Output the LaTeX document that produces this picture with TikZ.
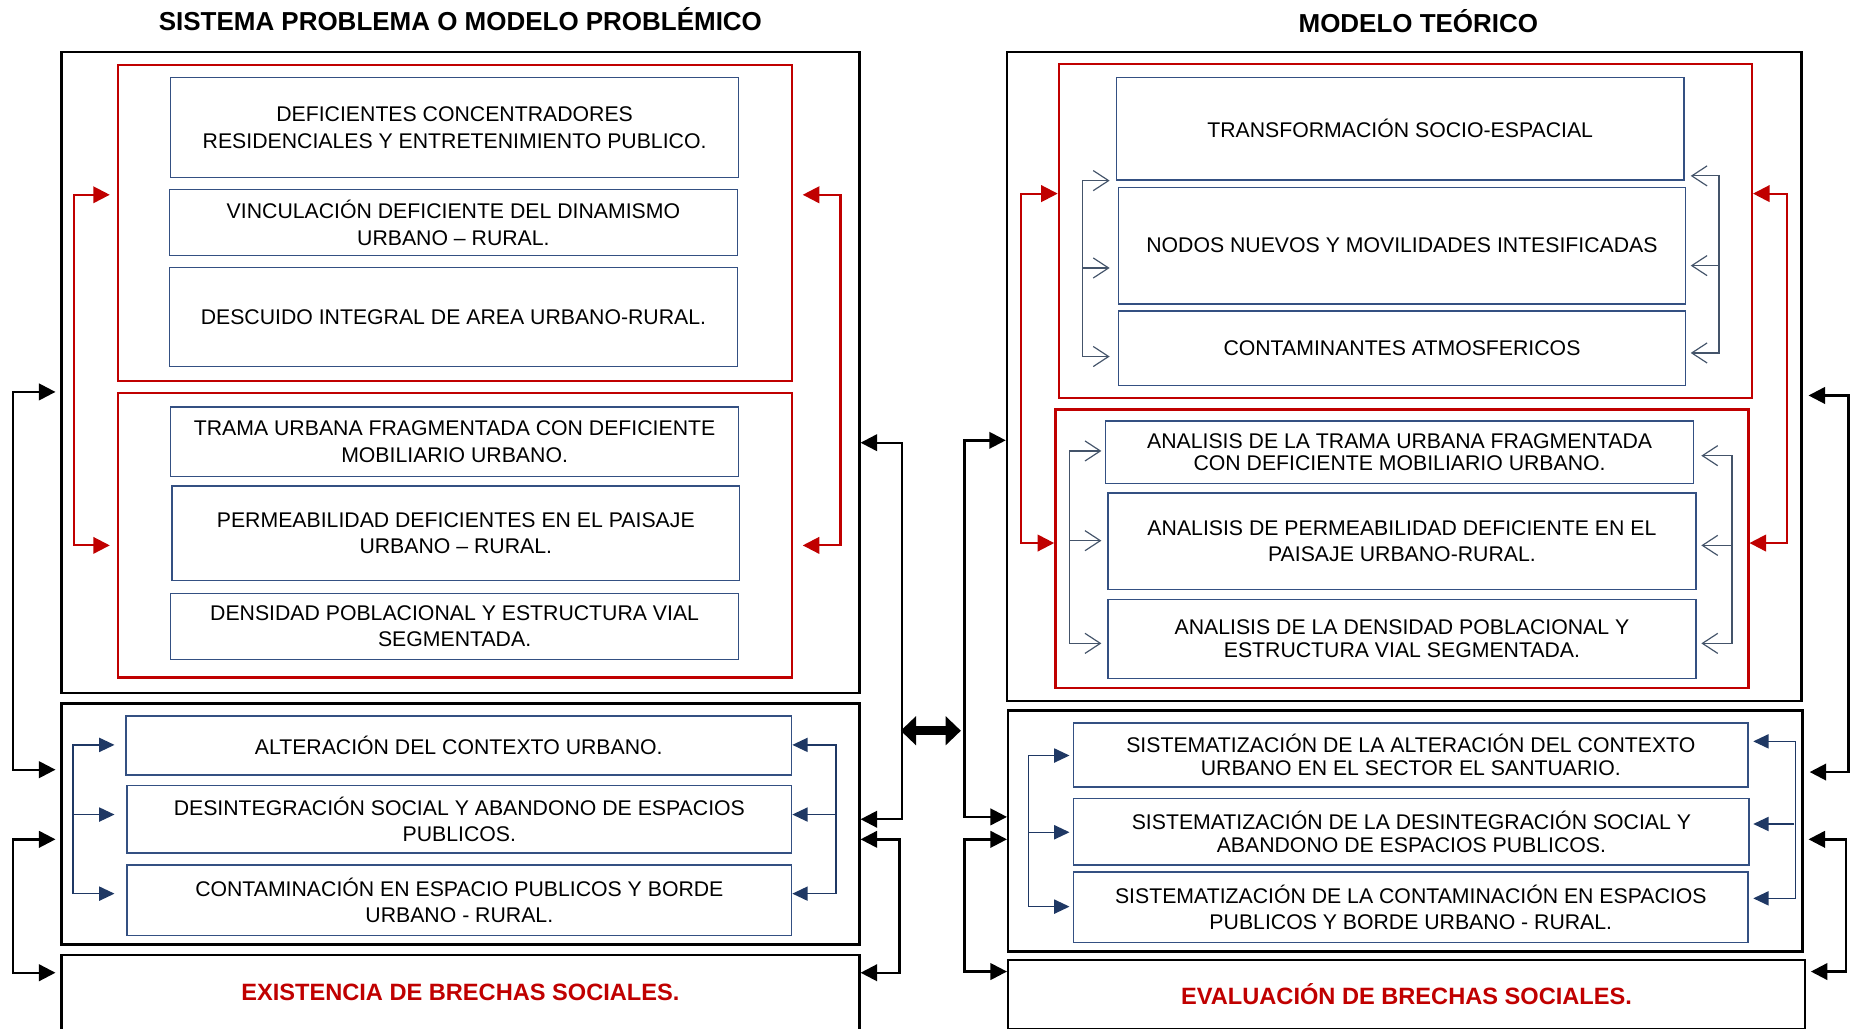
\documentclass[tikz,border=0pt]{standalone}
\usepackage{fontspec}
\setmainfont{Liberation Sans}
\usetikzlibrary{
		calc,
		positioning,
		arrows.meta
	}
\tikzset{
		>={Triangle[length=12pt,width=12pt]}
	}
\definecolor{rojo}{RGB}{192, 0, 0}
\definecolor{azulcaja}{RGB}{52, 80, 130}
\definecolor{azulflecha}{RGB}{31, 56, 100}
\definecolor{grisazul}{RGB}{68, 84, 106}

\begin{document}
\begin{tikzpicture}
		[x=1pt, y=-1pt,
		marco/.style= {draw=black, line width=2pt, anchor=north west, inner sep=0pt},
		marco rojo/.style= {draw=rojo, line width=2pt, anchor=north west, inner sep=0pt},
		caja/.style= {draw=azulcaja, line width=1.2pt, anchor=north west, inner sep=0pt, align=center, font=\fontsize{18}{22.5}\selectfont},
		apretada/.style= {font=\fontsize{18}{19}\selectfont},
		brecha/.style= {marco, text=rojo, font=\fontsize{20}{24}\bfseries\selectfont},
		titulo/.style= {inner sep=0pt, font=\fontsize{22}{26}\bfseries\selectfont},
		linea roja/.style= {draw=rojo, line width=1.8pt, >={Triangle[length=14pt,width=14pt]}},
		linea azul/.style= {draw=azulflecha, line width=1.2pt, >={Triangle[length=13pt,width=12pt]}},
		linea fina/.style= {draw=grisazul, line width=1pt, >={Straight Barb[length=13pt,width=17pt]}},
		linea negra/.style= {draw=black, line width=2pt, >={Triangle[length=14pt,width=14pt]}},
		flecha doble/.style= {draw=black, line width=8pt, {Triangle[length=13pt,width=24pt]}-{Triangle[length=13pt,width=24pt]}}
		]

		\useasboundingbox (0,0) rectangle (1568,871);

		\node [marco, minimum width=676pt, minimum height=543pt] (LB1) at (51,43) {};
			\node [marco rojo, minimum width=571pt, minimum height=268pt] (LR1) at (99,54) {};
				\node [caja, minimum width=481pt, minimum height=85pt] (L1) at (144,65) {DEFICIENTES CONCENTRADORES\\RESIDENCIALES Y ENTRETENIMIENTO PUBLICO.};
				\node [caja, minimum width=481pt, minimum height=56pt] (L2) at (143,160) {VINCULACIÓN DEFICIENTE DEL DINAMISMO\\URBANO – RURAL.};
				\node [caja, minimum width=481pt, minimum height=84pt] (L3) at (143,226) {DESCUIDO INTEGRAL DE AREA URBANO-RURAL.};
			\node [marco rojo, minimum width=571pt, minimum height=241pt] (LR2) at (99,332) {};
				\node [caja, minimum width=481pt, minimum height=59pt] (L4) at (144,344) {TRAMA URBANA FRAGMENTADA CON DEFICIENTE\\MOBILIARIO URBANO.};
				\node [caja, minimum width=481pt, minimum height=80pt] (L5) at (145,411) {PERMEABILIDAD DEFICIENTES EN EL PAISAJE\\URBANO – RURAL.};
				\node [caja, minimum width=481pt, minimum height=56pt] (L6) at (144,502) {DENSIDAD POBLACIONAL Y ESTRUCTURA VIAL\\SEGMENTADA.};
		\node [marco, minimum width=676pt, minimum height=204pt] (LB2) at (51,595) {};
			\node [caja, minimum width=564pt, minimum height=50pt] (L7) at (106,606) {ALTERACIÓN DEL CONTEXTO URBANO.};
			\node [caja, minimum width=563pt, minimum height=57pt] (L8) at (107,665) {DESINTEGRACIÓN SOCIAL Y ABANDONO DE ESPACIOS\\PUBLICOS.};
			\node [caja, minimum width=563pt, minimum height=60pt] (L9) at (107,732) {CONTAMINACIÓN EN ESPACIO PUBLICOS Y BORDE\\URBANO - RURAL.};
		\node [brecha, minimum width=676pt, minimum height=64pt] (LB3) at (51,808) {EXISTENCIA DE BRECHAS SOCIALES.};

		\node [marco, minimum width=673pt, minimum height=550pt] (RB1) at (852,43) {};
			\node [marco rojo, minimum width=587pt, minimum height=283pt] (RR1) at (896,53) {};
				\node [caja, minimum width=481pt, minimum height=87pt] (R1) at (945,65) {TRANSFORMACIÓN SOCIO-ESPACIAL};
				\node [caja, minimum width=480pt, minimum height=99pt] (R2) at (947,158) {NODOS NUEVOS Y MOVILIDADES INTESIFICADAS};
				\node [caja, minimum width=480pt, minimum height=63pt] (R3) at (947,263) {CONTAMINANTES ATMOSFERICOS};
			\node [marco rojo, minimum width=587pt, minimum height=236pt] (RR2) at (893,346) {};
				\node [caja, apretada, minimum width=498pt, minimum height=53pt] (R4) at (936,356) {ANALISIS DE LA TRAMA URBANA FRAGMENTADA\\CON DEFICIENTE MOBILIARIO URBANO.};
				\node [caja, minimum width=498pt, minimum height=82pt] (R5) at (938,417) {ANALISIS DE PERMEABILIDAD DEFICIENTE EN EL\\PAISAJE URBANO-RURAL.};
				\node [caja, apretada, minimum width=498pt, minimum height=67pt] (R6) at (938,507) {ANALISIS DE LA DENSIDAD POBLACIONAL Y\\ESTRUCTURA VIAL SEGMENTADA.};
		\node [marco, minimum width=673pt, minimum height=204pt] (RB2) at (853,601) {};
			\node [caja, apretada, minimum width=571pt, minimum height=54pt] (R7) at (909,612) {SISTEMATIZACIÓN DE LA ALTERACIÓN DEL CONTEXTO\\URBANO EN EL SECTOR EL SANTUARIO.};
			\node [caja, apretada, minimum width=572pt, minimum height=56pt] (R8) at (909,676) {SISTEMATIZACIÓN DE LA DESINTEGRACIÓN SOCIAL Y\\ABANDONO DE ESPACIOS PUBLICOS.};
			\node [caja, minimum width=571pt, minimum height=60pt] (R9) at (909,738) {SISTEMATIZACIÓN DE LA CONTAMINACIÓN EN ESPACIOS\\PUBLICOS Y BORDE URBANO - RURAL.};
		\node [brecha, minimum width=675pt, minimum height=59pt] (RB3) at (853,812) {EVALUACIÓN DE BRECHAS SOCIALES.};

		\node [titulo, above=17pt of LB1] (T1) {SISTEMA PROBLEMA O MODELO PROBLÉMICO};
		\node [titulo, above=15pt of RB1, xshift=12pt] (T2) {MODELO TEÓRICO};

		\draw [linea roja, <->, shorten <=6pt, shorten >=6pt] (LR1.west |- 0,165) -- ++(-36,0) |- (LR2.west |- 0,462);
		\draw [linea roja, <->, shorten <=8pt, shorten >=8pt] (LR1.east |- 0,165) -- ++(40,0) |- (LR2.east |- 0,462);
		\draw [linea roja, <->] (RR1.west |- 0,164) -- ++(-31,0) |- (RR2.west |- 0,460);
		\draw [linea roja, <->] (RR1.east |- 0,164) -- ++(29,0) |- (RR2.east |- 0,460);

		\coordinate (azulL) at (62,690);
		\coordinate (azulR) at (707,690);
		\draw [linea azul, <->, shorten <=9pt, shorten >=10pt] (L7.west |- 0,631) -- ++(-44,0) |- (L9.west |- 0,757);
			\draw [linea azul, ->, shorten >=10pt] (azulL) -- (L8.west |- azulL);
		\draw [linea azul, <->] (L7.east |- 0,631) -- ++(37,0) |- (L9.east |- 0,757);
			\draw [linea azul, ->] (azulR) -- (L8.east |- azulR);

		\coordinate (azulL2) at (871,705);
		\coordinate (azulR2) at (1520,698);
		\draw [linea azul, <->, shorten <=3pt, shorten >=3pt] (R7.west |- 0,640) -- ++(-38,0) |- (R9.west |- 0,768);
			\draw [linea azul, ->, shorten >=3pt] (azulL2) -- (R8.west |- azulL2);
		\draw [linea azul, <->, shorten <=4pt, shorten >=4pt] (R7.east |- 0,628) -- ++(40,0) |- (R9.east |- 0,761);
			\draw [linea azul, ->, shorten >=3pt] (azulR2) -- (R8.east |- azulR2);

		\coordinate (finaL) at (917,227);
		\coordinate (finaR) at (1455,225);
		\draw [linea fina, <->, shorten <=5pt, shorten >=7pt] (R1.west |- 0,153) -- ++(-28,0) |- (R3.west |- 0,302);
			\draw [linea fina, ->, shorten >=7pt] (finaL) -- (R2.west |- finaL);
		\draw [linea fina, <->, shorten <=5pt, shorten >=4pt] (R1.east |- 0,149) -- ++(29,0) |- (R3.east |- 0,299);
			\draw [linea fina, ->, shorten >=4pt] (finaR) -- (R2.east |- finaR);

		\coordinate (finaL2) at (906,458);
		\coordinate (finaR2) at (1466,462);
		\draw [linea fina, <->, shorten <=3pt, shorten >=5pt] (R4.west |- 0,382) -- ++(-30,0) |- (R6.west |- 0,545);
			\draw [linea fina, ->, shorten >=5pt] (finaL2) -- (R5.west |- finaL2);
		\draw [linea fina, <->, shorten <=6pt, shorten >=4pt] (R4.east |- 0,386) -- ++(32,0) |- (R6.east |- 0,545);
			\draw [linea fina, ->, shorten >=4pt] (finaR2) -- (R5.east |- finaR2);

		\draw [linea negra, <->, shorten <=4pt, shorten >=4pt] (LB1.west |- 0,332) -- ++(-40,0) |- (LB2.west |- 0,652);
		\draw [linea negra, <->, shorten <=4pt, shorten >=4pt] (LB2.west |- 0,711) -- ++(-40,0) |- (LB3.west |- 0,824);
		\draw [linea negra, <->] (LB1.east |- 0,375) -- ++(35,0) |- (LB2.east |- 0,694);
		\draw [linea negra, <->] (LB2.east |- 0,711) -- ++(33,0) |- (LB3.east |- 0,824);
		\draw [linea negra, <->] (RB1.west |- 0,373) -- ++(-35,0) |- (RB2.west |- 0,692);
		\draw [linea negra, <->] (RB2.west |- 0,711) -- ++(-36,0) |- (RB3.west |- 0,823);
		\draw [linea negra, <->, shorten <=5pt, shorten >=5pt] (RB1.east |- 0,335) -- ++(39,0) |- (RB2.east |- 0,654);
		\draw [linea negra, <->, shorten <=4pt, shorten >=4pt] (RB2.east |- 0,711) -- ++(36,0) |- (RB3.east |- 0,823);

		\coordinate (dobleA) at (763,619);
		\coordinate (dobleB) at (814,619);
		\draw [flecha doble] (dobleA) -- (dobleB);

	\end{tikzpicture}
\end{document}
